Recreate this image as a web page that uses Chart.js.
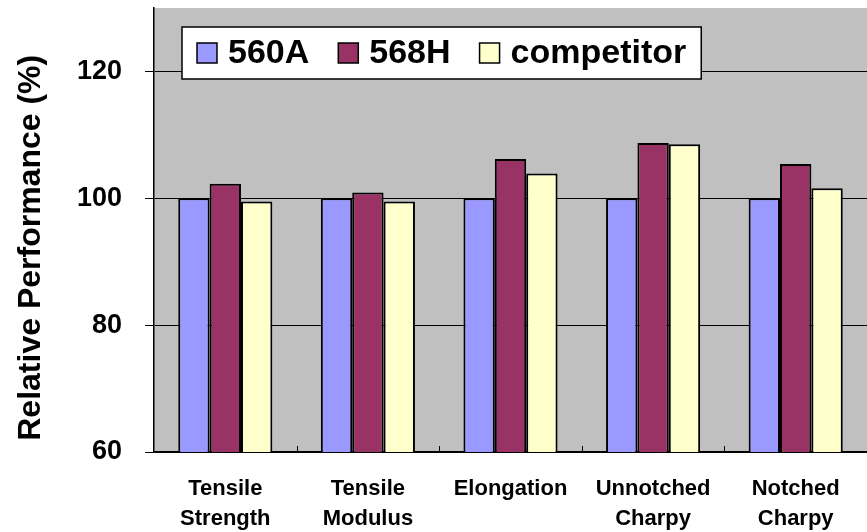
<!DOCTYPE html>
<html>
<head>
<meta charset="utf-8">
<script src="https://cdn.jsdelivr.net/npm/chart.js@4/dist/chart.umd.min.js"></script>
<style>
  html, body { margin: 0; padding: 0; background: #fff; }
  #wrap { width: 867px; height: 532px; }
</style>
</head>
<body>
<div id="wrap"><canvas id="perf"></canvas></div>
<script>
// data
const categories = [['Tensile', 'Strength'], ['Tensile', 'Modulus'], 'Elongation', ['Unnotched', 'Charpy'], ['Notched', 'Charpy']];
const seriesNames = ['560A', '568H', 'competitor'];
const vals560A = [100, 100, 100, 100, 100];
const vals568H = [102.3, 100.9, 106.2, 108.7, 105.4];
const valsCompetitor = [99.5, 99.5, 103.9, 108.5, 101.6];
const yTicks = [60, 80, 100, 120];

const colors = ['#9999FF', '#993366', '#FFFFCC'];
const FONT = 'Liberation Sans, Arial, sans-serif';

// gray plot background
const plotBg = {
  id: 'plotBg',
  beforeDraw(chart) {
    const a = chart.chartArea, ctx = chart.ctx;
    ctx.save();
    ctx.fillStyle = '#C0C0C0';
    ctx.fillRect(a.left, a.top, a.right - a.left, a.bottom - a.top);
    ctx.restore();
  }
};

// small inward tick marks between the categories
const catTicks = {
  id: 'catTicks',
  afterDatasetsDraw(chart) {
    const xs = chart.scales.x, a = chart.chartArea, ctx = chart.ctx;
    const half = (xs.getPixelForValue(1) - xs.getPixelForValue(0)) / 2;
    ctx.save();
    ctx.strokeStyle = '#000';
    ctx.lineWidth = 1;
    for (let i = 0; i < categories.length; i++) {
      const x = Math.round(xs.getPixelForValue(i) + half) + 0.5;
      ctx.beginPath();
      ctx.moveTo(x, a.bottom);
      ctx.lineTo(x, a.bottom - 6);
      ctx.stroke();
    }
    ctx.restore();
  }
};

// boxed legend inside the plot, like the original
const boxLegend = {
  id: 'boxLegend',
  afterDraw(chart) {
    const a = chart.chartArea, ctx = chart.ctx;
    const x0 = a.left + 28, y0 = a.top + 19, h = 52;
    ctx.save();
    ctx.font = 'bold 34px ' + FONT;
    ctx.textBaseline = 'middle';
    let widths = seriesNames.map(n => ctx.measureText(n).width);
    let w = 16;
    widths.forEach(tw => { w += 20 + 11 + tw + 29; });
    w -= 29 - 14;
    ctx.fillStyle = '#fff';
    ctx.fillRect(x0, y0, w, h);
    ctx.strokeStyle = '#000';
    ctx.lineWidth = 1.5;
    ctx.strokeRect(x0, y0, w, h);
    let x = x0 + 15;
    const cy = y0 + h / 2;
    chart.data.datasets.forEach((ds, i) => {
      ctx.fillStyle = ds.backgroundColor;
      ctx.fillRect(x, cy - 10, 20, 20);
      ctx.lineWidth = 1.5;
      ctx.strokeRect(x, cy - 10, 20, 20);
      ctx.fillStyle = '#000';
      ctx.fillText(ds.label, x + 31, cy + 1);
      x += 20 + 11 + widths[i] + 29;
    });
    ctx.restore();
  }
};

const ctx = document.getElementById('perf');
const chart = new Chart(ctx, {
  type: 'bar',
  data: {
    labels: categories,
    datasets: [
      { label: seriesNames[0], data: vals560A, backgroundColor: colors[0] },
      { label: seriesNames[1], data: vals568H, backgroundColor: colors[1] },
      { label: seriesNames[2], data: valsCompetitor, backgroundColor: colors[2] }
    ]
  },
  options: {
    responsive: true,
    maintainAspectRatio: false,
    animation: false,
    layout: { padding: { top: 8, right: 0, left: 0, bottom: 0 } },
    datasets: {
      bar: {
        borderColor: '#000',
        borderWidth: 2,
        borderSkipped: 'bottom',
        categoryPercentage: 0.66,
        barPercentage: 1
      }
    },
    plugins: {
      legend: { display: false },
      tooltip: { enabled: false }
    },
    scales: {
      x: {
        grid: { display: false, drawOnChartArea: false, drawTicks: false },
        border: { display: true, color: '#000', width: 1.5 },
        ticks: {
          color: '#000',
          font: { family: FONT, size: 22, weight: 'bold', lineHeight: 1.36 },
          padding: 22,
          maxRotation: 0,
          autoSkip: false
        },
        afterFit(scale) {
          scale.height = 80;
          scale.paddingLeft = 0;
          scale.paddingRight = 0;
        }
      },
      y: {
        min: yTicks[0],
        max: 130,
        afterBuildTicks(scale) {
          scale.ticks = yTicks.map(v => ({ value: v }));
        },
        grid: { color: '#000', lineWidth: 1, tickLength: 9, drawTicks: true },
        border: { display: true, color: '#000', width: 1.5 },
        ticks: {
          color: '#000',
          font: { family: FONT, size: 27, weight: 'bold' },
          padding: 23
        },
        title: {
          display: true,
          text: 'Relative Performance (%)    ',
          color: '#000',
          font: { family: FONT, size: 32, weight: 'bold' },
          padding: { top: 12, bottom: 0 }
        },
        afterFit(scale) {
          scale.width = 154;
          scale.paddingTop = 0;
          scale.paddingBottom = 0;
        }
      }
    }
  },
  plugins: [plotBg, catTicks, boxLegend]
});
</script>
</body>
</html>
